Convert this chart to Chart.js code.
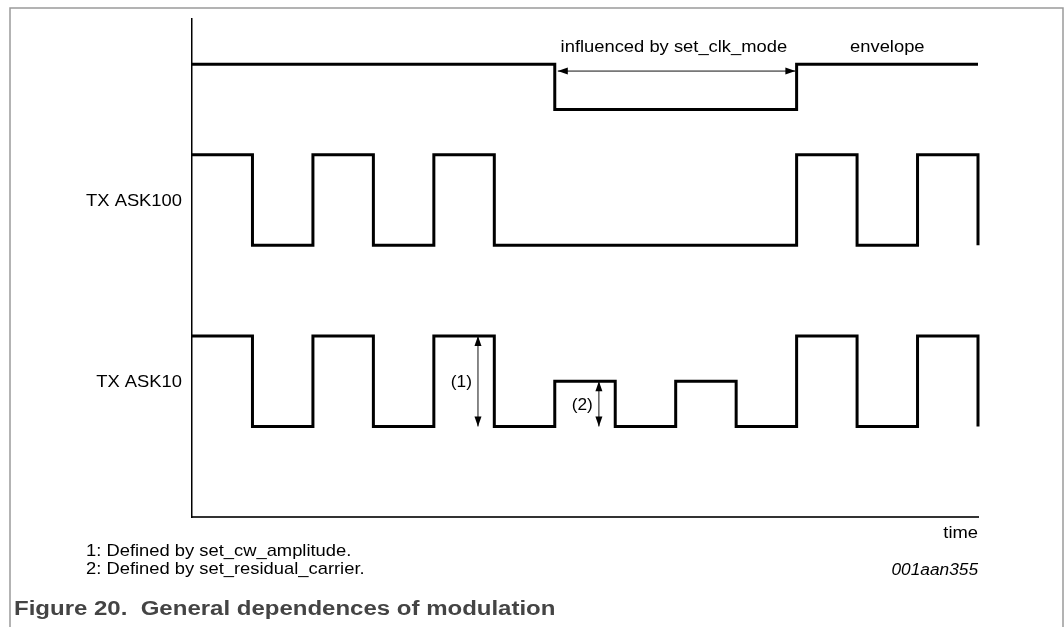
<!DOCTYPE html>
<html>
<head>
<meta charset="utf-8">
<script src="https://cdn.jsdelivr.net/npm/chart.js@4.4.1/dist/chart.umd.min.js"></script>
<style>
  html, body { margin: 0; padding: 0; background: #fff; }
  #wrap { position: relative; width: 1064px; height: 627px; }
</style>
</head>
<body>
<div id="wrap"><canvas id="timing"></canvas></div>
<script>
// signal data: edge times (in half-periods) and levels
const envelopeTimes = [0, 6, 10, 13];
const envelopeLevels = [10, 9, 10, 10];

const ask100Times = [0, 1, 2, 3, 4, 5, 10, 11, 12, 13];
const ask100Levels = [8, 6, 8, 6, 8, 6, 8, 6, 8, 6];

const ask10Times = [0, 1, 2, 3, 4, 5, 6, 7, 8, 9, 10, 11, 12, 13];
const ask10Levels = [4, 2, 4, 2, 4, 2, 3, 2, 3, 2, 4, 2, 4, 2];

// arrows: [x1, y1, x2, y2]
const arrowLines = [
  [6.05, 9.85, 9.98, 9.85],
  [4.73, 4, 4.73, 2],
  [6.73, 3, 6.73, 2]
];

const signalLabels = ['TX ASK100', 'TX ASK10'];
const notes = ['1: Defined by set_cw_amplitude.', '2: Defined by set_residual_carrier.'];

function toPoints(times, levels) {
  return times.map((t, i) => ({ x: t, y: levels[i] }));
}

function drawArrowHead(ctx, x, y, angle) {
  const len = 10, half = 3.5;
  ctx.save();
  ctx.translate(x, y);
  ctx.rotate(angle);
  ctx.beginPath();
  ctx.moveTo(0, 0);
  ctx.lineTo(-len, -half);
  ctx.lineTo(-len, half);
  ctx.closePath();
  ctx.fill();
  ctx.restore();
}

// the figure's lettering is a little wider than a plain font
function wideText(ctx, text, x, y, align, sx) {
  ctx.save();
  ctx.translate(x, y);
  ctx.scale(sx, 1);
  ctx.textAlign = align;
  ctx.fillText(text, 0, 0);
  ctx.restore();
}

const decorations = {
  id: 'decorations',
  afterDraw(chart) {
    const ctx = chart.ctx;
    const xs = chart.scales.x;
    const ys = chart.scales.y;
    ctx.save();

    // outer frame
    ctx.strokeStyle = '#9a9a9a';
    ctx.lineWidth = 1.5;
    ctx.beginPath();
    ctx.moveTo(10, 627);
    ctx.lineTo(10, 8);
    ctx.lineTo(1063, 8);
    ctx.lineTo(1063, 627);
    ctx.stroke();

    // arrows
    ctx.strokeStyle = '#111';
    ctx.fillStyle = '#000';
    ctx.lineWidth = 1;
    arrowLines.forEach(a => {
      const x1 = xs.getPixelForValue(a[0]), y1 = ys.getPixelForValue(a[1]);
      const x2 = xs.getPixelForValue(a[2]), y2 = ys.getPixelForValue(a[3]);
      ctx.beginPath();
      ctx.moveTo(x1, y1);
      ctx.lineTo(x2, y2);
      ctx.stroke();
      const ang = Math.atan2(y2 - y1, x2 - x1);
      drawArrowHead(ctx, x2, y2, ang);
      drawArrowHead(ctx, x1, y1, ang + Math.PI);
    });

    // texts
    const sx = 1.08;
    const reg = '17px "Liberation Sans", Arial, sans-serif';
    ctx.fillStyle = '#000';
    ctx.textBaseline = 'middle';
    ctx.font = reg;
    wideText(ctx, 'influenced by set_clk_mode', xs.getPixelForValue(7.97), 47, 'center', sx);
    wideText(ctx, 'envelope', xs.getPixelForValue(11.5), 47, 'center', sx);

    wideText(ctx, signalLabels[0], 182, 201, 'right', sx);
    wideText(ctx, signalLabels[1], 182, 382, 'right', sx);
    ctx.font = '16px "Liberation Sans", Arial, sans-serif';
    wideText(ctx, '(1)', xs.getPixelForValue(4.63), 383, 'right', sx);
    wideText(ctx, '(2)', xs.getPixelForValue(6.63), 406, 'right', sx);
    ctx.font = reg;
    wideText(ctx, 'time', xs.right, 533, 'right', sx);

    wideText(ctx, notes[0], 86, 551, 'left', sx);
    wideText(ctx, notes[1], 86, 569, 'left', sx);

    ctx.font = 'italic 16px "Liberation Sans", Arial, sans-serif';
    wideText(ctx, '001aan355', xs.right, 571, 'right', sx);

    ctx.fillStyle = '#444';
    ctx.font = 'bold 20px "Liberation Sans", Arial, sans-serif';
    wideText(ctx, 'Figure 20.  General dependences of modulation', 14, 609, 'left', 1.2);
    ctx.restore();
  }
};

const lineStyle = {
  borderColor: '#000',
  borderWidth: 3,
  pointRadius: 0,
  stepped: 'before',
  fill: false,
  clip: 4
};

new Chart(document.getElementById('timing'), {
  type: 'line',
  data: {
    datasets: [
      { label: 'envelope', data: toPoints(envelopeTimes, envelopeLevels), ...lineStyle },
      { label: 'TX ASK100', data: toPoints(ask100Times, ask100Levels), ...lineStyle },
      { label: 'TX ASK10', data: toPoints(ask10Times, ask10Levels), ...lineStyle }
    ]
  },
  options: {
    responsive: true,
    maintainAspectRatio: false,
    animation: false,
    layout: { padding: { left: 192, top: 19, right: 86, bottom: 110 } },
    plugins: { legend: { display: false }, tooltip: { enabled: false } },
    scales: {
      x: {
        type: 'linear',
        min: 0,
        max: 13,
        ticks: { display: false },
        grid: { display: false },
        border: { display: true, color: '#333', width: 2 },
        afterFit: (s) => { s.height = 0; }
      },
      y: {
        min: 0,
        max: 11,
        ticks: { display: false },
        grid: { display: false },
        border: { display: true, color: '#000', width: 1.5 },
        afterFit: (s) => { s.width = 0; }
      }
    }
  },
  plugins: [decorations]
});
</script>
</body>
</html>
